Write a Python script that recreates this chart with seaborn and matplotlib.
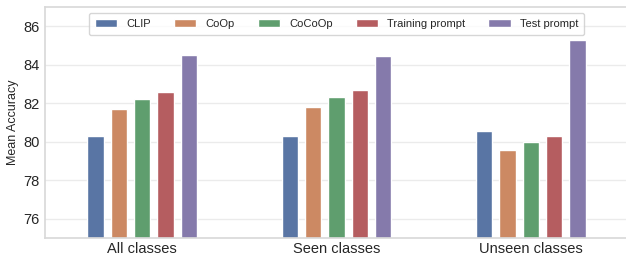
import numpy as np
import pandas as pd
import matplotlib as mpl
mpl.use("Agg")
import matplotlib.pyplot as plt
import seaborn as sns

### DATA ###
groups = ["All classes", "Seen classes", "Unseen classes"]
methods = ["CLIP", "CoOp", "CoCoOp", "Training prompt", "Test prompt"]
clip_acc = [80.3, 80.3, 80.55]
coop_acc = [81.7, 81.8, 79.55]
cocoop_acc = [82.2, 82.3, 80.0]
train_prompt_acc = [82.6, 82.7, 80.3]
test_prompt_acc = [84.5, 84.45, 85.3]

### BUILD LONG DATAFRAME ###
rows = []
for name, vals in zip(methods, [clip_acc, coop_acc, cocoop_acc, train_prompt_acc, test_prompt_acc]):
    for g, v in zip(groups, vals):
        rows.append({"Group": g, "Method": name, "Mean Accuracy": v})
df = pd.DataFrame(rows)

### PLOT ###
sns.set_theme(style="whitegrid", palette="deep",
              rc={"grid.color": "#ebebeb", "axes.edgecolor": "#d9d9d9"})
plt.rcParams["font.family"] = ["Liberation Sans", "DejaVu Sans"]

fig = plt.figure(figsize=(6.26, 2.57), dpi=100)
ax = fig.add_axes([45 / 626, 19 / 257, 583 / 626, 231 / 257])
sns.barplot(data=df, x="Group", y="Mean Accuracy", hue="Method", order=groups,
            hue_order=methods, width=0.6, gap=0.3, ax=ax)

ax.set_ylim(75, 87)
ax.set_xlim(-0.5, 2.5)
ax.set_yticks([76, 78, 80, 82, 84, 86])
ax.set_xlabel("")
ax.set_ylabel("Mean Accuracy", fontsize=9, labelpad=3)
ax.tick_params(axis="y", labelsize=10.5, length=0, pad=4)
ax.tick_params(axis="x", labelsize=10.5, length=0, pad=3)
ax.legend(loc="upper center", ncol=5, fontsize=8, frameon=True,
          borderpad=0.55, borderaxespad=0.55, columnspacing=2.1)

fig.savefig("out.png", dpi=100)
